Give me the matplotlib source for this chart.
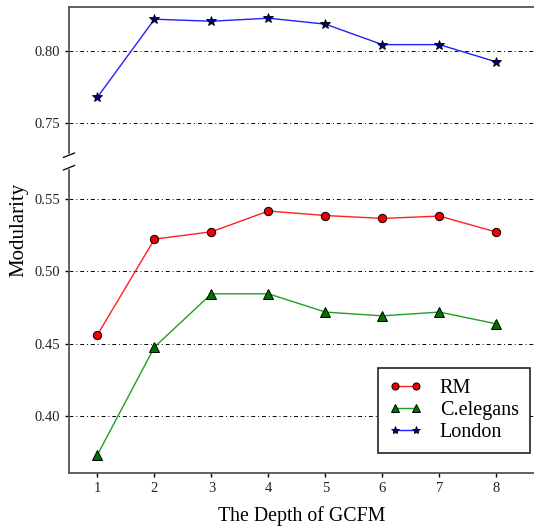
import numpy as np
import matplotlib
matplotlib.use('Agg')
import matplotlib.pyplot as plt

plt.rcParams['font.family'] = ['Liberation Serif', 'DejaVu Serif']

# depth of GCFM
depth = [1, 2, 3, 4, 5, 6, 7, 8]

# modularity per network
rm = [0.4564, 0.5223, 0.5274, 0.5417, 0.5386, 0.5366, 0.5382, 0.5272]
celegans = [0.3736, 0.4479, 0.4846, 0.4846, 0.4720, 0.4694, 0.4720, 0.4639]
london = [0.768, 0.8216, 0.8202, 0.8223, 0.8182, 0.8041, 0.8041, 0.7922]

top_ticks = [0.75, 0.80]
bottom_ticks = [0.40, 0.45, 0.50, 0.55]

fig = plt.figure(figsize=(5.34, 5.30), dpi=100)
left = 69 / 534
ax_top = fig.add_axes([left, 1 - 153 / 530, 1 - left, (153 - 7) / 530])
ax_bot = fig.add_axes([left, 1 - 473 / 530, 1 - left, (473 - 170) / 530])

spine_col = '#555555'

def style(ax):
    ax.set_xlim(0.5, 8.66)
    ax.spines['right'].set_visible(False)
    for s in ['left', 'top', 'bottom']:
        ax.spines[s].set_color(spine_col)
        ax.spines[s].set_linewidth(1.3)
    ax.yaxis.grid(True, linestyle=(0, (4, 3, 1, 3)), color='black', linewidth=0.7)
    ax.set_axisbelow(True)
    ax.tick_params(axis='both', direction='out', length=3, width=1, color='black',
                   labelsize=10.5, labelcolor='#222222')

style(ax_top)
style(ax_bot)

ax_top.set_ylim(0.7295, 0.830)
ax_top.set_yticks(top_ticks)
ax_top.set_yticklabels(['%.2f' % t for t in top_ticks])
ax_top.spines['bottom'].set_visible(False)
ax_top.tick_params(axis='x', bottom=False, labelbottom=False)

ax_bot.set_ylim(0.361, 0.570)
ax_bot.set_yticks(bottom_ticks)
ax_bot.set_yticklabels(['%.2f' % t for t in bottom_ticks])
ax_bot.spines['top'].set_visible(False)
ax_bot.set_xticks(depth)

l_rm, = ax_bot.plot(depth, rm, color='#ff2020', linewidth=1, marker='o', markersize=6,
                    markerfacecolor='#ee0000', markeredgecolor='black', markeredgewidth=0.7,
                    label='RM')
l_ce, = ax_bot.plot(depth, celegans, color='#20a020', linewidth=1, marker='^', markersize=6.5,
                    markerfacecolor='#007000', markeredgecolor='black', markeredgewidth=0.7,
                    label='C.elegans')
l_lo, = ax_top.plot(depth, london, color='#2020ff', linewidth=1, marker='*', markersize=7,
                    markerfacecolor='#000080', markeredgecolor='black', markeredgewidth=0.6,
                    label='London')

# break marks on the left spine
d = 0.012
kw = dict(color='black', linewidth=0.9, clip_on=False)
ax_top.plot([-d, d], [-0.03, 0.0], transform=ax_top.transAxes, **kw)
ax_bot.plot([-d, d], [1.0, 1.015], transform=ax_bot.transAxes, **kw)

ax_bot.set_xlabel('The Depth of GCFM', fontsize=14.3, labelpad=8)
fig.text(0.036, 0.567, 'Modularity', rotation=90, fontsize=15, va='center', ha='center')

leg = ax_bot.legend(handles=[l_rm, l_ce, l_lo], loc='lower right', fontsize=14.5,
                    numpoints=2, markerscale=0.85,
                    fancybox=False, framealpha=1, edgecolor='#222222',
                    bbox_to_anchor=(0.991, 0.066), borderpad=0.55, labelspacing=0.15,
                    handlelength=1.6, handletextpad=0.9, borderaxespad=0)
leg.get_frame().set_linewidth(1.2)

fig.savefig('out.png', dpi=100)
